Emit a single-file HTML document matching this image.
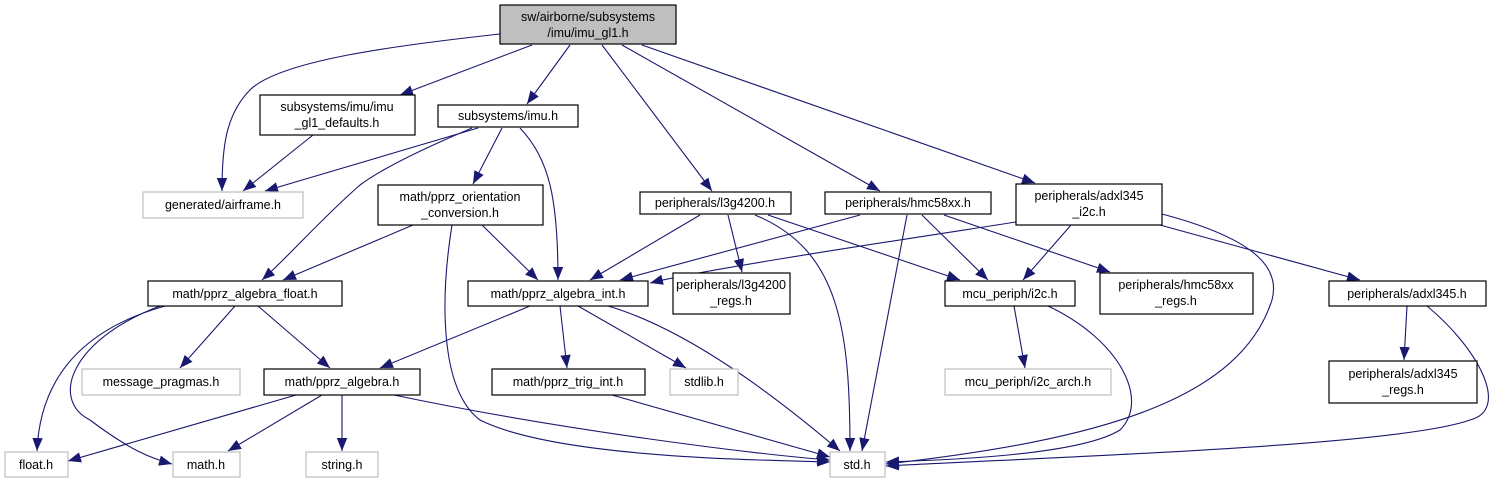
<!DOCTYPE html>
<html><head><meta charset="utf-8"><style>
body{margin:0;background:#fff}
svg text{font-family:"Liberation Sans",sans-serif;font-size:12.5px;text-anchor:middle;fill:#000}
</style></head><body>
<svg width="1503" height="484" viewBox="0 0 1503 484" xmlns="http://www.w3.org/2000/svg">
<defs><marker id="a" viewBox="0 0 10 10" refX="10" refY="5" markerWidth="13" markerHeight="13" markerUnits="userSpaceOnUse" orient="auto"><path d="M0,1 L10,5 L0,9 z" fill="#191970"/></marker></defs>
<g fill="none" stroke="#191970" stroke-width="1.1" marker-end="url(#a)">
<path d="M500,34 C400,45 280,60 250,90 C225,115 222,150 222,191"/>
<path d="M532,45 L400,95"/>
<path d="M570,45 L527,104"/>
<path d="M602,45 L712,191"/>
<path d="M622,45 L880,191"/>
<path d="M642,45 L1035,183"/>
<path d="M313,135 L243,191"/>
<path d="M478,128 L265,191"/>
<path d="M472,128 C420,150 380,170 360,185 C320,220 290,255 262,280"/>
<path d="M502,128 L473,184"/>
<path d="M520,128 C550,160 558,200 558,280"/>
<path d="M413,225 L283,280"/>
<path d="M482,225 L538,280"/>
<path d="M452,225 C440,300 440,390 480,420 C560,460 780,460 830,462"/>
<path d="M700,215 L590,280"/>
<path d="M728,215 L742,272"/>
<path d="M755,215 C840,250 850,330 850,451"/>
<path d="M768,215 L960,280"/>
<path d="M860,215 L620,280"/>
<path d="M907,215 L862,451"/>
<path d="M922,215 L988,280"/>
<path d="M944,215 L1110,272"/>
<path d="M1016,222 C900,240 700,270 650,283"/>
<path d="M1071,225 L1023,280"/>
<path d="M1160,225 L1360,280"/>
<path d="M1162,214 C1260,240 1280,270 1272,300 C1240,400 1100,440 886,464"/>
<path d="M165,306 C80,330 40,380 37,451"/>
<path d="M160,306 C70,340 50,400 90,420 C130,450 150,458 172,464"/>
<path d="M235,306 L180,368"/>
<path d="M258,306 L330,368"/>
<path d="M530,306 L380,368"/>
<path d="M560,306 L567,368"/>
<path d="M578,306 L686,368"/>
<path d="M608,306 C690,330 780,400 840,451"/>
<path d="M1014,306 L1025,368"/>
<path d="M1048,306 C1120,340 1150,400 1120,430 C1080,455 950,460 886,462"/>
<path d="M1407,306 L1404,360"/>
<path d="M1427,306 C1480,350 1510,410 1470,420 C1400,445 1100,455 886,466"/>
<path d="M296,395 L68,461"/>
<path d="M322,395 L228,451"/>
<path d="M342,395 L342,451"/>
<path d="M394,395 C560,430 760,455 830,460"/>
<path d="M612,395 L830,457"/>
</g>
<g stroke-width="1.2">
<rect x="500" y="5" width="176" height="39" fill="#bfbfbf" stroke="#000"/>
<g fill="#fff" stroke="#000">
<rect x="260" y="95" width="155" height="40"/>
<rect x="438" y="105" width="140" height="22"/>
<rect x="378" y="185" width="165" height="40"/>
<rect x="640" y="192" width="151" height="22"/>
<rect x="825" y="192" width="166" height="22"/>
<rect x="1016" y="184" width="146" height="41"/>
<rect x="148" y="281" width="194" height="25"/>
<rect x="468" y="281" width="180" height="25"/>
<rect x="673" y="273" width="117" height="41"/>
<rect x="945" y="281" width="130" height="25"/>
<rect x="1100" y="273" width="153" height="41"/>
<rect x="1329" y="281" width="157" height="25"/>
<rect x="264" y="369" width="156" height="26"/>
<rect x="492" y="369" width="153" height="26"/>
<rect x="1329" y="361" width="148" height="42"/>
</g>
<g fill="#fff" stroke="#bfbfbf">
<rect x="143" y="192" width="160" height="26"/>
<rect x="82" y="369" width="158" height="26"/>
<rect x="670" y="369" width="68" height="26"/>
<rect x="945" y="369" width="166" height="26"/>
<rect x="5" y="452" width="63" height="25"/>
<rect x="173" y="452" width="67" height="25"/>
<rect x="306" y="452" width="72" height="25"/>
<rect x="830" y="452" width="55" height="25"/>
</g>
</g>
<text x="588" y="21">sw/airborne/subsystems</text><text x="588" y="37">/imu/imu_gl1.h</text>
<text x="337" y="111">subsystems/imu/imu</text><text x="337" y="127">_gl1_defaults.h</text>
<text x="508" y="120">subsystems/imu.h</text>
<text x="223" y="209">generated/airframe.h</text>
<text x="460" y="201">math/pprz_orientation</text><text x="460" y="217">_conversion.h</text>
<text x="715" y="207">peripherals/l3g4200.h</text>
<text x="908" y="207">peripherals/hmc58xx.h</text>
<text x="1089" y="200">peripherals/adxl345</text><text x="1089" y="216">_i2c.h</text>
<text x="245" y="298">math/pprz_algebra_float.h</text>
<text x="558" y="298">math/pprz_algebra_int.h</text>
<text x="731" y="289">peripherals/l3g4200</text><text x="731" y="305">_regs.h</text>
<text x="1010" y="298">mcu_periph/i2c.h</text>
<text x="1176" y="289">peripherals/hmc58xx</text><text x="1176" y="305">_regs.h</text>
<text x="1407" y="298">peripherals/adxl345.h</text>
<text x="161" y="386">message_pragmas.h</text>
<text x="342" y="386">math/pprz_algebra.h</text>
<text x="568" y="386">math/pprz_trig_int.h</text>
<text x="704" y="386">stdlib.h</text>
<text x="1028" y="386">mcu_periph/i2c_arch.h</text>
<text x="1403" y="378">peripherals/adxl345</text><text x="1403" y="394">_regs.h</text>
<text x="36" y="469">float.h</text>
<text x="206" y="469">math.h</text>
<text x="342" y="469">string.h</text>
<text x="857" y="469">std.h</text>
</svg>
</body></html>
